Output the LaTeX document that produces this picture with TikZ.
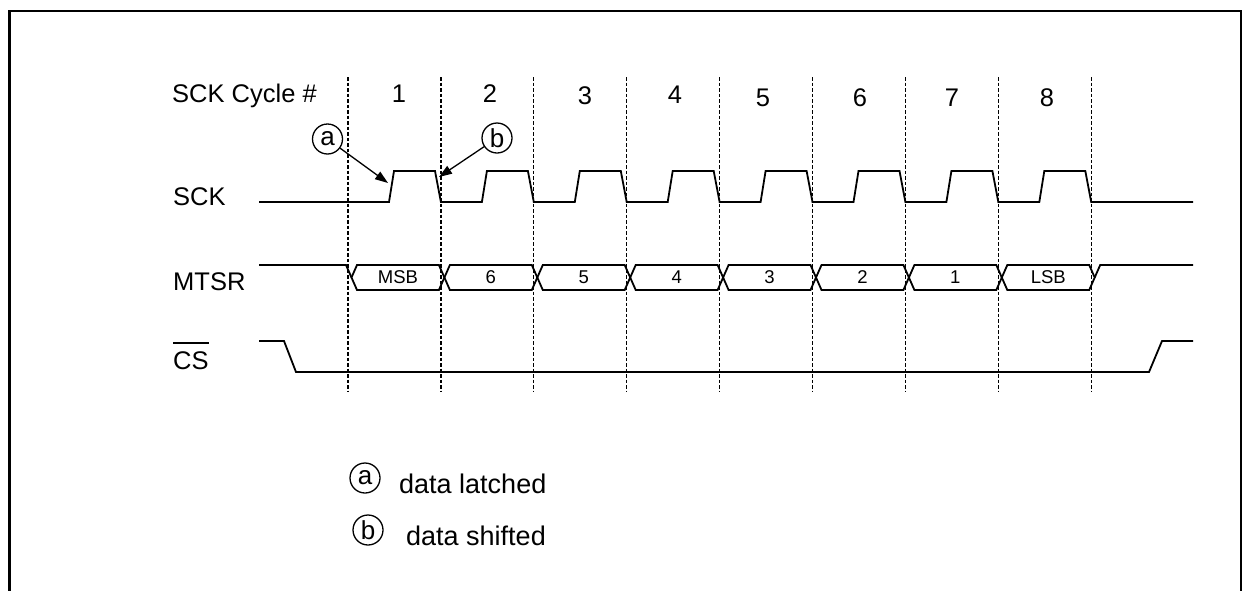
\documentclass[tikz,border=0pt]{standalone}
\usepackage{fontspec}
\setmainfont{Liberation Sans}
\usetikzlibrary{arrows.meta}
\begin{document}
\begin{tikzpicture}[x=1pt,y=-1pt,
  wave/.style={line width=1.8pt, line join=miter},
  gridline/.style={line width=1.3pt, dash pattern=on 3.5pt off 2pt},
  lbl/.style={font=\fontsize{25.5}{30}\selectfont, inner sep=0pt},
  leglbl/.style={font=\fontsize{27}{32}\selectfont, inner sep=0pt},
  bitlbl/.style={font=\fontsize{18.5}{22}\selectfont, inner sep=0pt},
  circlbl/.style={circle, draw, line width=1.3pt, minimum size=30pt, inner sep=0pt, font=\fontsize{26}{30}\selectfont},
  pointer/.style={line width=1.3pt, -{Triangle[length=13pt,width=9pt]}},
  frame/.style={line width=2.8pt}
  ]
\useasboundingbox (0,0) rectangle (1244,590);
\draw[frame] (9.5,592) -- (9.5,11) -- (1241,11) -- (1241,592);

% grid lines
\foreach \i in {0,...,8}{
  \draw[gridline] ({348+92.9*\i},77) -- ({348+92.9*\i},391);
}

% labels
\node[lbl, anchor=base west] (cyc) at (172,102) {SCK Cycle \#};
\foreach \n/\x/\y in {1/399/102.5, 2/490/102.5, 3/585/104, 4/675/103, 5/763/106, 6/860/106, 7/952/106, 8/1047/106}{
  \node[lbl, anchor=base] (num\n) at (\x,\y) {\n};
}
\node[lbl, anchor=base west] (scklbl) at (173,205) {SCK};
\node[lbl, anchor=base west] (mtsrlbl) at (173,290) {MTSR};
\node[lbl, anchor=base west] (cslbl) at (173,369) {CS};
\draw[line width=1.5pt] ([yshift=8pt]cslbl.north west) -- ([yshift=8pt]cslbl.north east);

% SCK waveform
\draw[wave] (259,202)
  foreach \i in {0,...,7}{
    -- ({348+92.9*\i+41},202) -- ({348+92.9*\i+46},171)
    -- ({348+92.9*\i+87},171) -- ({348+92.9*(\i+1)},202)
  } -- (1193,202);

% MTSR waveform
\draw[wave] (259,265) -- (346,265) -- (351.5,277.5);
\foreach \i/\t in {0/MSB,1/6,2/5,3/4,4/3,5/2,6/1,7/LSB}{
  \draw[wave] ({351.5+92.9*\i},277.5) -- ({351.5+92.9*\i+5.5},265)
    -- ({351.5+92.9*(\i+1)-5.5},265) -- ({351.5+92.9*(\i+1)},277.5)
    -- ({351.5+92.9*(\i+1)-5.5},290) -- ({351.5+92.9*\i+5.5},290) -- cycle;
  \node[bitlbl] (bit\i) at ({351.5+92.9*(\i+0.5)},277.5) {\t};
}
\draw[wave] ({351.5+92.9*8},277.5) -- ({351.5+92.9*8+5.5},265) -- (1193,265);

% CS waveform
\draw[wave] (259,341) -- (284,341) -- (296,372) -- (1149,372) -- (1162,341) -- (1193,341);

% markers
\node[circlbl] (ca) at (327.5,139) {a};
\node[circlbl] (cb) at (497,138) {b};
\coordinate (tipa) at (388,183);
\coordinate (tipb) at (439,177);
\draw[pointer] (ca) -- (tipa);
\draw[pointer] (cb) -- (tipb);

% legend
\node[circlbl] (la) at (365,478) {a};
\node[leglbl, anchor=base west] (lat) at (399,493) {data latched};
\node[circlbl] (lb) at (368,530) {b};
\node[leglbl, anchor=base west] (sht) at (406,545) {data shifted};
\end{tikzpicture}
\end{document}
